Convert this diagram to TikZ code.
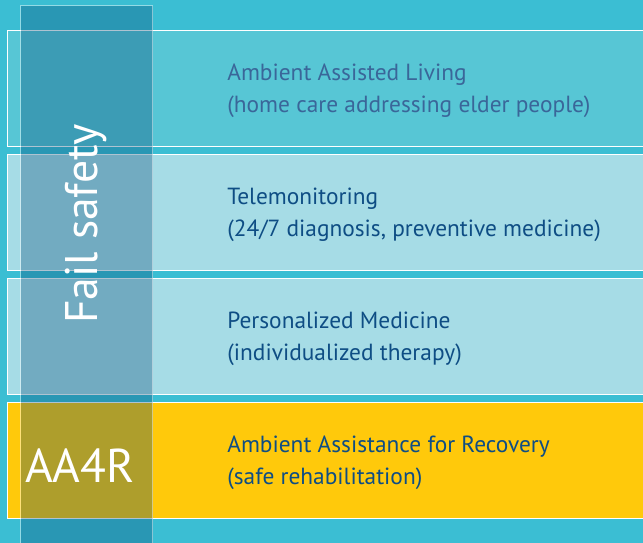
\documentclass[tikz,border=0pt]{standalone}
\usepackage{fontspec}
\setmainfont{PT Sans}

\definecolor{sea}{HTML}{3BBED3}
\definecolor{aalband}{HTML}{57C6D5}
\definecolor{paleband}{HTML}{A6DCE6}
\definecolor{gold}{HTML}{FFC90B}
\definecolor{navy}{HTML}{0E4D84}
\definecolor{greynavy}{HTML}{3A6699}
\definecolor{shade}{RGB}{5,69,115}

\begin{document}
\begin{tikzpicture}[x=0.02cm,y=-0.02cm]
    \tikzstyle{band}=[draw=white,line width=0.7pt,anchor=north west,inner sep=0pt,minimum width=680*0.02cm,minimum height=116*0.02cm]
    \tikzstyle{txt}=[anchor=west,align=left,inner sep=0pt,text=navy,font=\fontsize{13.3}{18.2}\selectfont]

    \useasboundingbox (0,0) rectangle (643,543);
    \clip (0,0) rectangle (643,543);
    \fill[sea] (0,0) rectangle (643,543);

    % the four layers
    \node[band,fill=aalband] (aal) at (7,30) {};
    \node[band,fill=paleband] (tele) at (7,154) {};
    \node[band,fill=paleband] (pers) at (7,278) {};
    \node[band,fill=gold] (aa4r) at (7,402) {};

    \node[txt,text=greynavy] (aaltxt) at (227,91) {Ambient Assisted Living\\(home care addressing elder people)};
    \node[txt] (teletxt) at (227,215) {Telemonitoring\\(24/7 diagnosis, preventive medicine)};
    \node[txt] (perstxt) at (227,339) {Personalized Medicine\\(individualized therapy)};
    \node[txt] (aa4rtxt) at (227,463) {Ambient Assistance for Recovery\\(safe rehabilitation)};

    % fail safety column over all layers
    \node[draw=white,draw opacity=0.45,fill=shade,fill opacity=0.32,line width=0.6pt,
          anchor=north west,inner sep=0pt,minimum width=132*0.02cm,minimum height=560*0.02cm] (fail) at (20,5) {};
    \node[rotate=90,text=white,font=\fontsize{26}{30}\selectfont] (failtxt) at (86,224) {Fail safety};
    \node[text=white,font=\fontsize{27}{30}\selectfont] (aa4rlbl) at (80,466) {AA4R};
\end{tikzpicture}
\end{document}
